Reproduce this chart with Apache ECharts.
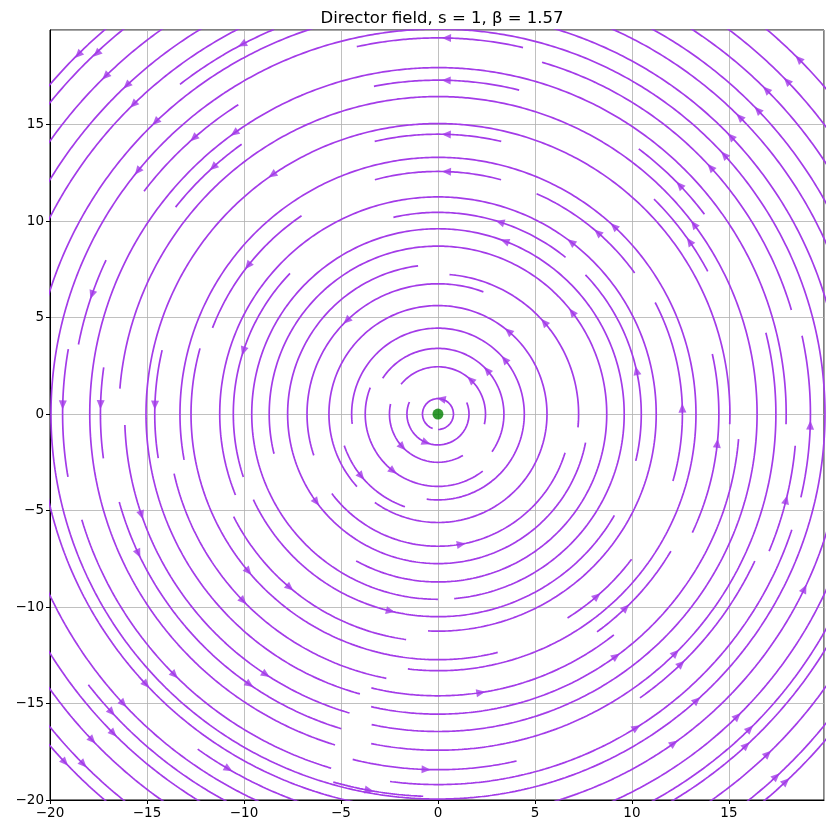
<!DOCTYPE html>
<html><head><meta charset="utf-8">
<script src="https://cdn.jsdelivr.net/npm/echarts@6/dist/echarts.min.js"></script>
<style>html,body{margin:0;padding:0;background:#fff}#c{width:834px;height:834px}</style>
</head><body><div id="c"></div>
<script>
// streamline arcs: [radius, startAngleDeg, endAngleDeg] (counter-clockwise flow)
const arcs = [
  [0.8, 270, 610], [1.6, 157, 382], [2.5, 168, 301], [2.45, 347.5, 501],
  [3.4, 325, 507], [3.75, 158.6, 308], [4.45, 262.5, 546.6], [5.1, 198.7, 250.5],
  [5.62, 234.6, 582], [6.75, 69.7, 198.5], [6.85, 217, 343], [7.25, 354.5, 445.3],
  [7.75, 97.6, 349], [8.7, 241, 553.7], [9.6, 275, 630],
  [10.45, 51, 102.7], [10.55, 136.3, 198], [10.5, 205, 330], [10.48, 346.6, 403.5],
  [11.25, 267.4, 561.9], [11.8, 206.8, 262],
  [12.57, 75, 105], [12.45, 124.4, 159], [12.73, 164.5, 284], [12.5, 302.3, 323],
  [12.6, 344, 387.3], [12.5, 35.8, 66],
  [13.3, 263.3, 550.3], [13.95, 192.8, 259], [13.95, 306, 329.4],
  [14.5, 77, 103], [14.6, 166.9, 189], [14.6, 256.4, 308.4], [14.48, 334.9, 372.4],
  [15.05, 358, 614.5], [15.75, 28, 45], [15.55, 257.2, 355.2],
  [16.45, 258, 535.4], [16.15, 182, 253.6],
  [17.3, 76, 101], [17.26, 125.9, 141.6], [17.4, 172, 187.6], [17.05, 195.5, 253],
  [17.42, 258.6, 374], [17.2, 37, 53],
  [17.95, 358.3, 612.8], [18.02, 305.3, 335], [18.43, 256.2, 282.7], [18.49, 337.4, 354.9],
  [18.88, 155, 169],
  [19.0, 16.5, 73.6], [19.05, 122.7, 142.7], [19.2, 262.6, 341.8], [19.2, 347, 372.2],
  [19.16, 196.6, 253.3], [19.35, 170, 189.7], [19.49, 77, 102.4], [19.82, 254.2, 267.8],
  [19.95, 0, 360],
  // outer rings, visible only in the corners
  [20.85, 0, 90], [21.88, 0, 90], [22.8, 0, 90], [23.85, 0, 90], [24.93, 0, 90], [26.16, 0, 90],
  [21.0, 90, 180], [21.65, 113, 127.9], [22.45, 90, 180], [23.4, 90, 180], [24.5, 90, 180],
  [25.7, 90, 180], [26.3, 90, 180],
  [20.56, 180, 270], [21.33, 234.5, 270], [22.1, 180, 270], [22.84, 217.9, 270], [23.53, 180, 270],
  [24.56, 180, 270], [25.75, 180, 270], [26.37, 180, 270],
  [20.95, 270, 360], [21.99, 270, 360], [22.9, 270, 360], [23.4, 270, 360], [24.48, 270, 360],
  [25.63, 270, 360], [26.16, 270, 360]
];
// arrow heads: [radius, angleDeg]
const arrows = [
  [26.28,134.9],[25.66,133.3],[24.5,134.4],[23.4,133.3],[22.45,134.4],[21.0,133.9],
  [19.05,131.4],[17.95,125.8],[17.26,132.2],[21.65,117.8],[15.05,124.6],[19.95,140.9],
  [12.45,141.9],[18.88,160.9],[10.55,162],[6.75,134.2],[19.35,178.6],[17.4,178.4],[14.6,178.2],
  [19.49,88.7],[17.3,88.6],[14.5,88.3],[12.57,88],[26.16,44.7],[24.93,43.8],[23.85,44.8],
  [22.8,43.7],[21.88,44.7],[20.85,43.6],[19.95,42.3],[19.0,42.3],[17.2,43.6],[16.45,36.7],
  [15.75,34.6],[13.3,47],[12.5,48.8],[11.25,52.4],[10.45,72.2],[9.6,69],[8.7,37.4],
  [7.25,41],[5.62,49.8],[4.45,39.5],[3.4,41.9],[2.45,46.7],[0.8,78],[10.48,12.4],[12.6,1.4],
  [1.6,247.8],[2.5,223],[3.75,232],[5.1,219.3],[7.75,216.1],[16.15,198.9],[17.05,205.1],
  [12.73,219.9],[11.8,229.7],[13.95,224],[10.5,256.5],[19.16,224.9],[20.56,223],[16.15,236.7],
  [17.05,235.3],[22.1,222.8],[22.84,222.6],[23.53,224.7],[24.56,223.5],[26.37,223.2],[25.75,224.8],
  [21.33,239.6],[19.82,259.7],[18.43,268.1],
  [6.85,280.1],[14.6,278.7],[15.55,306.2],[12.5,311],[13.95,314],[17.42,314.7],[18.02,314.1],
  [19.95,312],[19.2,302.2],[20.95,305.5],[21.99,314.6],[22.9,314.6],[23.4,312.8],[24.48,314],
  [25.63,312.9],[26.16,313.3],[20.95,334.4],[18.49,346.1],[14.48,354],[19.2,358.3]
];
const center = [[0, 0]];
const xTicks = [-20, -15, -10, -5, 0, 5, 10, 15];
const yTicks = [-20, -15, -10, -5, 0, 5, 10, 15];

const LINE = '#a33be8';
const rad = d => d * Math.PI / 180;
const series = arcs.map(([r, a0, a1]) => {
  const n = Math.max(8, Math.ceil((a1 - a0) * r / 3));
  const pts = [];
  for (let i = 0; i <= n; i++) {
    const a = rad(a0 + (a1 - a0) * i / n);
    pts.push([r * Math.cos(a), r * Math.sin(a)]);
  }
  return { type: 'line', data: pts, showSymbol: false, symbol: 'none', clip: true,
    lineStyle: { color: LINE, width: 1.7 }, silent: true, z: 2 };
});
series.push({
  type: 'scatter', symbol: 'triangle', symbolSize: [8, 9], clip: true, z: 3,
  itemStyle: { color: LINE },
  data: arrows.map(([r, a]) => ({ value: [r * Math.cos(rad(a)), r * Math.sin(rad(a))], symbolRotate: a }))
});
series.push({ type: 'scatter', data: center, symbolSize: 11, itemStyle: { color: '#008000' }, z: 4 });

const mk = ticks => v => (ticks.some(t => Math.abs(t - v) < 1e-6)) ? String(v).replace('-', '\u2212') : '';
const axisCommon = ticks => ({
  type: 'value', min: -20, max: 19.9, interval: 5,
  axisLine: { show: true, onZero: false, lineStyle: { color: '#000', width: 1 } },
  axisTick: { show: true, inside: false, length: 4, lineStyle: { color: '#000' } },
  axisLabel: { color: '#000', fontFamily: 'DejaVu Sans', fontSize: 13.5, formatter: mk(ticks), showMaxLabel: false, margin: 6 },
  splitLine: { show: true, lineStyle: { color: '#b0b0b0', width: 0.8 } }
});
const chart = echarts.init(document.getElementById('c'), null, { renderer: 'canvas' });
chart.setOption({
  animation: false,
  backgroundColor: '#fff',
  title: { text: 'Director field, s = 1, \u03b2 = 1.57', left: 437, top: 5, textAlign: 'center',
    textStyle: { fontFamily: 'DejaVu Sans', fontSize: 16.5, fontWeight: 'normal', color: '#000' } },
  grid: { left: 50, top: 30, width: 774, height: 770, show: true, borderColor: '#000', borderWidth: 1, backgroundColor: 'transparent' },
  xAxis: axisCommon(xTicks),
  yAxis: axisCommon(yTicks),
  series
});
</script></body></html>
